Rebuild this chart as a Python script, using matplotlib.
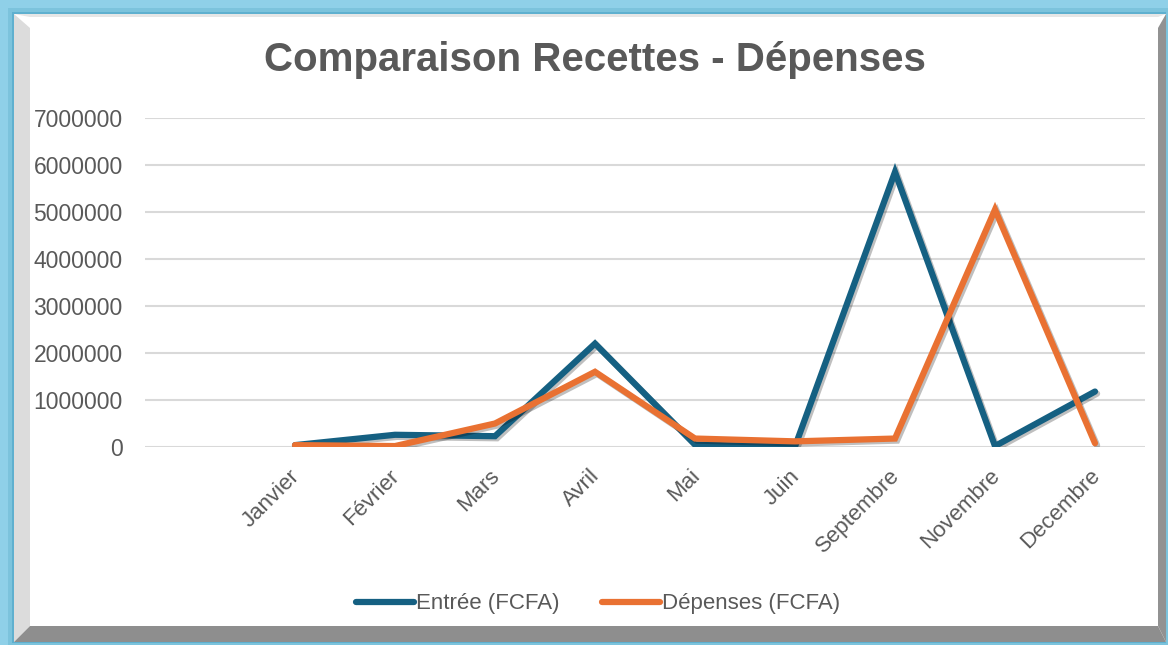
import matplotlib.pyplot as plt
from matplotlib.patches import Polygon
import matplotlib.patheffects as pe
from matplotlib.transforms import ScaledTranslation

# data
mois = ["Janvier", "Février", "Mars", "Avril", "Mai", "Juin",
        "Septembre", "Novembre", "Decembre"]
entree = [40000, 260000, 230000, 2200000, 50000, 10000,
          5850000, 20000, 1180000]
depenses = [40000, 20000, 500000, 1600000, 180000, 120000,
            180000, 5050000, 80000]
yticks = [0, 1000000, 2000000, 3000000, 4000000, 5000000, 6000000, 7000000]

W, H = 1168, 645
fig = plt.figure(figsize=(W / 100, H / 100), dpi=100)
fig.patch.set_facecolor("#8fd0e8")


def px(pts):
    return [(x / W, 1 - y / H) for x, y in pts]


def poly(pts, color):
    fig.patches.append(Polygon(px(pts), closed=True, transform=fig.transFigure,
                               facecolor=color, edgecolor="none", zorder=-5))


# frame with bevel
poly([(8, 8), (1168, 8), (1168, 645), (8, 645)], "#7cc3dc")
poly([(12, 12), (1166, 12), (1166, 643), (12, 643)], "#5fb0cf")
poly([(14, 14), (1166, 14), (1166, 642), (14, 642)], "#ffffff")
poly([(14, 14), (30, 28), (30, 626), (14, 642)], "#dcdcdc")
poly([(14, 14), (1166, 14), (1158, 17), (30, 17)], "#e6e6e6")
poly([(1166, 14), (1166, 642), (1158, 626), (1158, 28)], "#929292")
poly([(14, 642), (30, 626), (1158, 626), (1166, 642)], "#8e8e8e")

ax = fig.add_axes([145 / W, 1 - 447 / H, 1000 / W, (447 - 118) / H])
ax.set_facecolor("none")

x = list(range(len(mois)))
shadow = [pe.SimpleLineShadow(offset=(1.5, -1.5), alpha=0.25, shadow_color="black"),
          pe.Normal()]
ax.plot(x, entree, color="#156082", lw=4.5, solid_capstyle="round",
        solid_joinstyle="miter", label="Entrée (FCFA)", path_effects=shadow, zorder=3)
ax.plot(x, depenses, color="#e97132", lw=4.5, solid_capstyle="round",
        solid_joinstyle="miter", label="Dépenses (FCFA)", path_effects=shadow, zorder=4)

ax.set_xlim(-1.5, 8.5)
ax.set_ylim(0, 7000000)
ax.set_yticks(yticks)
ax.set_yticklabels([str(v) for v in yticks])
ax.yaxis.grid(True, color="#d9d9d9", lw=1.5)
ax.set_axisbelow(True)
for s in ax.spines.values():
    s.set_visible(False)
ax.tick_params(length=0, colors="#595959")
ax.tick_params(axis="y", pad=16)
for t in ax.get_yticklabels():
    t.set_fontfamily("Liberation Sans")
    t.set_fontsize(16.5)

ax.set_xticks(x)
ax.set_xticklabels(mois, rotation=45, ha="right", rotation_mode="anchor",
                   fontfamily="Liberation Sans", fontsize=16, color="#595959")
ax.tick_params(axis="x", pad=14)
shift = ScaledTranslation(-6 / 100, 1 / 100, fig.dpi_scale_trans)
for t in ax.get_xticklabels():
    t.set_transform(t.get_transform() + shift)

fig.text(595 / W, 1 - 60 / H, "Comparaison Recettes - Dépenses", ha="center",
         va="center", fontsize=29, fontweight="bold", color="#595959",
         fontfamily="Liberation Sans")

leg = fig.legend(loc="center", bbox_to_anchor=(598 / W, 1 - 604 / H), ncol=2,
                 frameon=False, handlelength=2.6, handletextpad=0.1,
                 columnspacing=1.9, prop={"family": "Liberation Sans", "size": 16})
for t in leg.get_texts():
    t.set_color("#595959")
for h in leg.get_lines():
    h.set_path_effects([])
    h.set_linewidth(4.5)

fig.savefig("out.png", dpi=100, facecolor=fig.get_facecolor())
